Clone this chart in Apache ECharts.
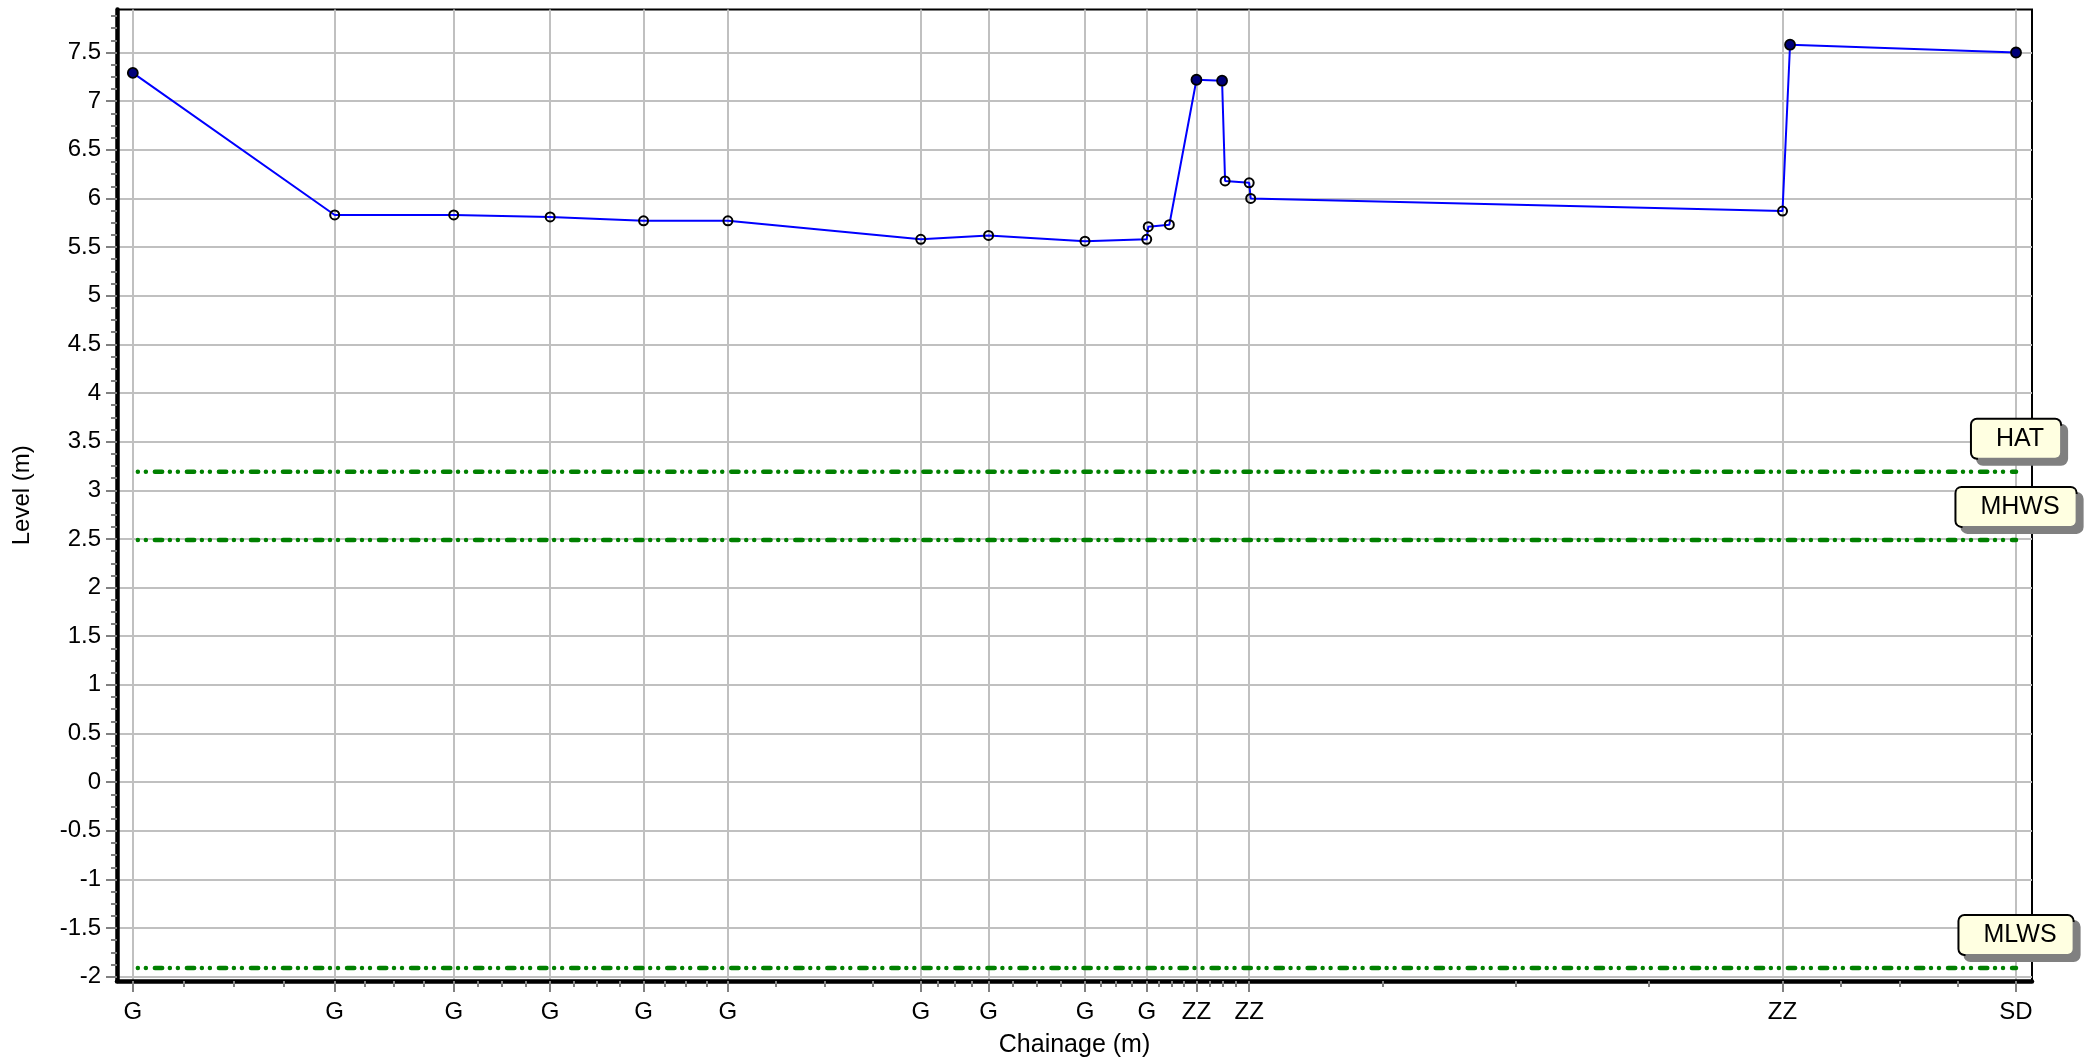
<!DOCTYPE html>
<html>
<head>
<meta charset="utf-8">
<title>Level profile</title>
<script src="https://cdn.jsdelivr.net/npm/echarts@6/dist/echarts.min.js"></script>
<style>
  html, body { margin: 0; padding: 0; background: #ffffff; }
  #chart { width: 2087px; height: 1063px; }
</style>
</head>
<body>
<div id="chart"></div>
<script>
// Surveyed profile: chainage along the section (m) and level (m)
const chainage = [0, 13.4, 21.3, 27.7, 33.9, 39.5, 52.3, 56.8, 63.2, 67.3, 67.4, 68.8, 70.6, 72.3, 72.5, 74.1, 74.2, 109.5, 110.0, 125.0];
const level = [7.29, 5.83, 5.83, 5.81, 5.77, 5.77, 5.58, 5.62, 5.56, 5.58, 5.71, 5.73, 7.22, 7.21, 6.18, 6.16, 6.00, 5.87, 7.58, 7.50];
// Feature code of each surveyed point ('' = not labelled on the axis)
const featureCode = ['G', 'G', 'G', 'G', 'G', 'G', 'G', 'G', 'G', 'G', '', '', 'ZZ', '', '', 'ZZ', '', 'ZZ', '', 'SD'];
// Points drawn with a solid marker
const solidPoint = [1, 0, 0, 0, 0, 0, 0, 0, 0, 0, 0, 0, 1, 1, 0, 0, 0, 0, 1, 1];

// Tidal datums
const tideNames = ['HAT', 'MHWS', 'MLWS'];
const tideLevels = [3.19, 2.49, -1.91];

// Level axis tick labels
const levelTicks = [-2, -1.5, -1, -0.5, 0, 0.5, 1, 1.5, 2, 2.5, 3, 3.5, 4, 4.5, 5, 5.5, 6, 6.5, 7, 7.5];

const xMin = -1.05, xMax = 126.06;
const yMin = -2.044, yMax = 7.942;
const FONT = 'Liberation Sans, Arial, Helvetica, sans-serif';

// Chainage ticks sit at the coded points; three minor ticks between each pair
const tickX = [];
featureCode.forEach((c, i) => { if (c) tickX.push(chainage[i]); });
const minorX = [];
for (let k = 0; k < tickX.length - 1; k++) {
  const a = tickX[k], b = tickX[k + 1];
  for (let j = 1; j < 4; j++) minorX.push(a + (b - a) * j / 4);
}
const minorY = [];
for (let k = 0; k < levelTicks.length; k++) {
  const a = levelTicks[k];
  for (let j = 1; j < 4; j++) {
    const v = a + 0.125 * j;
    if (v < yMax) minorY.push(v);
  }
}

function codeAt(v) {
  for (let i = 0; i < chainage.length; i++) {
    if (Math.abs(chainage[i] - v) < 1e-6 && featureCode[i]) return featureCode[i];
  }
  return '';
}

const profileData = chainage.map((c, i) => ({
  value: [c, level[i]],
  symbolSize: solidPoint[i] ? 10 : 9,
  itemStyle: solidPoint[i]
    ? { color: '#00007a', borderColor: '#000000', borderWidth: 1.8 }
    : { color: 'rgba(255,255,255,0)', borderColor: '#000000', borderWidth: 2 }
}));

const tideSeries = tideLevels.map((lv, i) => ({
  name: tideNames[i],
  type: 'line',
  silent: true,
  z: 3,
  symbol: 'none',
  data: [[chainage[0], lv], [chainage[chainage.length - 1], lv]],
  lineStyle: {
    color: '#008000',
    width: 4.5,
    type: [0.01, 8, 0.01, 9, 7.3, 7.7],
    dashOffset: 27,
    cap: 'round'
  }
}));

const chart = echarts.init(document.getElementById('chart'), null, { renderer: 'canvas' });

chart.setOption({
  animation: false,
  backgroundColor: '#ffffff',
  grid: {
    left: 117, right: 55, top: 9.5, bottom: 82,
    show: true, borderColor: '#000000', borderWidth: 2,
    backgroundColor: 'rgba(0,0,0,0)',
    containLabel: false,
    outerBoundsMode: 'none'
  },
  xAxis: [{
    type: 'value', min: xMin, max: xMax, position: 'bottom',
    axisLine: { show: true, onZero: false, lineStyle: { color: '#000000', width: 4.5 } },
    axisTick: { show: true, customValues: tickX, length: 11, lineStyle: { color: '#808080', width: 2 } },
    axisLabel: {
      show: true, customValues: tickX, formatter: v => codeAt(v),
      margin: 19, fontSize: 24, color: '#000000', fontFamily: FONT
    },
    splitLine: { show: true, lineStyle: { color: '#c0c0c0', width: 2 } },
    name: 'Chainage (m)', nameLocation: 'middle', nameGap: 52,
    nameTextStyle: { fontSize: 25, color: '#000000', fontFamily: FONT }
  }, {
    type: 'value', min: xMin, max: xMax, position: 'bottom', offset: 0,
    axisLine: { show: false, onZero: false },
    axisTick: { show: true, customValues: minorX, length: 6, lineStyle: { color: '#808080', width: 2 } },
    axisLabel: { show: false },
    splitLine: { show: false }
  }],
  yAxis: [{
    type: 'value', min: yMin, max: yMax, position: 'left',
    axisLine: { show: true, onZero: false, lineStyle: { color: '#000000', width: 4.5 } },
    axisTick: { show: true, customValues: levelTicks, length: 11, lineStyle: { color: '#808080', width: 2 } },
    axisLabel: {
      show: true, customValues: levelTicks,
      margin: 16, fontSize: 24, color: '#000000', fontFamily: FONT
    },
    splitLine: { show: true, lineStyle: { color: '#c0c0c0', width: 2 } },
    name: 'Level (m)', nameLocation: 'middle', nameGap: 83, nameRotate: 90,
    nameTextStyle: { fontSize: 24, color: '#000000', fontFamily: FONT }
  }, {
    type: 'value', min: yMin, max: yMax, position: 'left', offset: 0,
    axisLine: { show: false, onZero: false },
    axisTick: { show: true, customValues: minorY, length: 6, lineStyle: { color: '#808080', width: 2 } },
    axisLabel: { show: false },
    splitLine: { show: false }
  }],
  series: [
    ...tideSeries,
    {
      name: 'Datum labels',
      type: 'scatter',
      silent: true,
      z: 10,
      symbolSize: 0,
      itemStyle: { color: '#000000', opacity: 1 },
      data: tideNames.map((n, i) => ({ name: n, value: [chainage[chainage.length - 1], tideLevels[i]] })),
      label: {
        show: true, position: 'top', distance: 14, formatter: '{b}',
        opacity: 1,
        fontSize: 25, color: '#000000', fontFamily: FONT,
        backgroundColor: '#ffffe1', borderColor: '#000000', borderWidth: 2, borderRadius: 5,
        padding: [7, 16, 6, 24],
        shadowColor: '#808080', shadowOffsetX: 6, shadowOffsetY: 6, shadowBlur: 0
      }
    },
    {
      name: 'Profile',
      type: 'line',
      silent: true,
      z: 5,
      symbol: 'circle',
      showAllSymbol: true,
      data: profileData,
      lineStyle: { color: '#0000ff', width: 2 },
      itemStyle: { color: '#0000ff' }
    }
  ]
});
</script>
</body>
</html>
